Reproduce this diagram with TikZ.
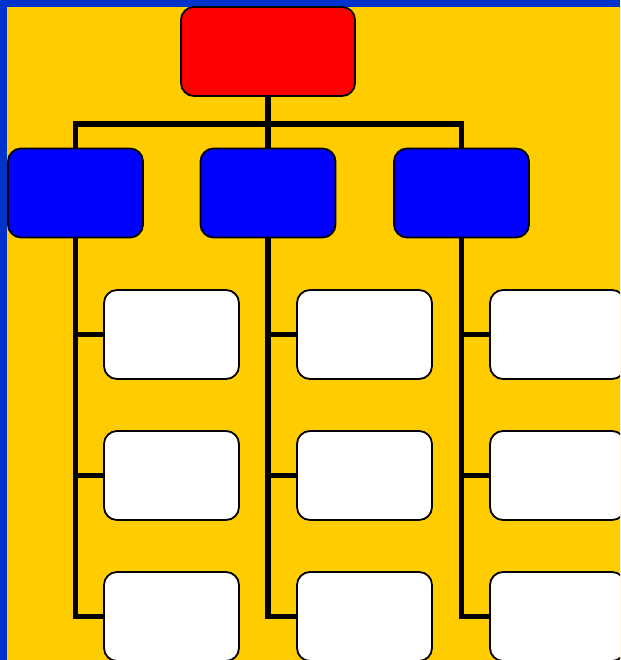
\documentclass[tikz,border=0pt]{standalone}
\definecolor{frameblue}{HTML}{0033CC}
\definecolor{bgyellow}{HTML}{FFCC00}
\begin{document}
\begin{tikzpicture}[x=1pt,y=-1pt,
  box/.style={draw=black,line width=1.8pt,rounded corners=13pt,minimum width=135pt,minimum height=89pt,inner sep=0pt},
  topbox/.style={box,fill=red,minimum width=174pt},
  midbox/.style={box,fill=blue},
  leafbox/.style={box,fill=white},
  conn/.style={draw=black,line width=5.5pt}]
\useasboundingbox (0,0) rectangle (620,660);
\begin{scope}
\clip (0,0) rectangle (620,660);
\fill[frameblue] (0,0) rectangle (620,660);
\fill[bgyellow] (7,7) rectangle (630,670);
\coordinate (bus) at (268,124);
\node[topbox] (top) at (268,51.5) {};
\node[midbox] (b1) at (75.5,193) {};
\node[midbox] (b2) at (268,193) {};
\node[midbox] (b3) at (461.5,193) {};
\foreach \c/\x in {1/171.5,2/364.5,3/557.5}{
  \node[leafbox] (w\c1) at (\x,334.5) {};
  \node[leafbox] (w\c2) at (\x,475.5) {};
  \node[leafbox] (w\c3) at (\x,616.5) {};
}
\draw[conn] (top.south) -- (b2.north);
\draw[conn] (b1.north) -- (b1.north |- bus) -- (b3.north |- bus) -- (b3.north);
\foreach \c in {1,2,3}{
  \draw[conn] (b\c.south) -- (b\c.south |- w\c3.west) -- (w\c3.west);
  \draw[conn] (b\c.south |- w\c1.west) -- (w\c1.west);
  \draw[conn] (b\c.south |- w\c2.west) -- (w\c2.west);
}
\end{scope}
\end{tikzpicture}
\end{document}
